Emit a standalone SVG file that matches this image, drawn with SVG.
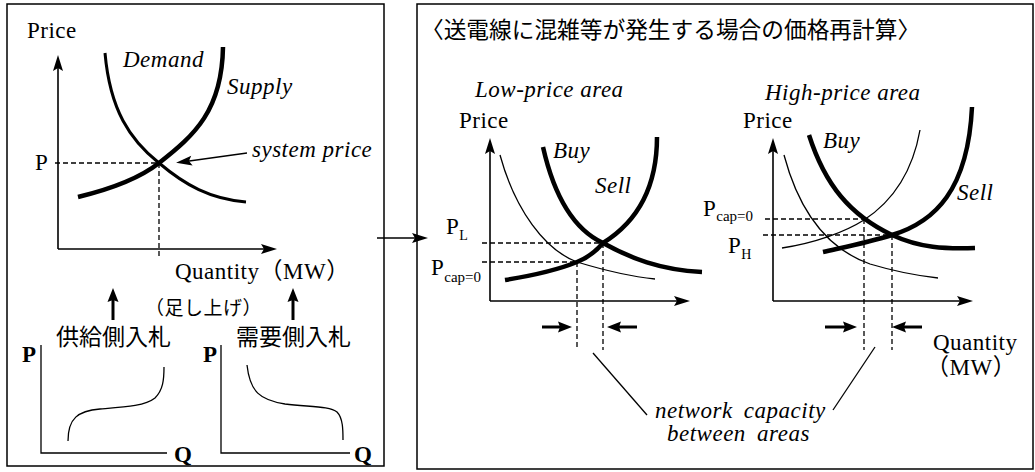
<svg xmlns="http://www.w3.org/2000/svg" width="1035" height="472" viewBox="0 0 1035 472">
<defs>
<style>
.t{font-family:"Liberation Serif","Noto Sans CJK JP",serif;font-size:23px;letter-spacing:0.5px;fill:#000}
.i{font-style:italic}
.b{font-weight:bold}
.cjk{font-family:"Noto Sans CJK JP","Noto Sans CJK SC",sans-serif;fill:#000}
.ax{fill:none;stroke:#000;stroke-width:1.6;marker-end:url(#ah)}
.dash{fill:none;stroke:#000;stroke-width:1.3;stroke-dasharray:5,3}
.thick{fill:none;stroke:#000;stroke-width:4.5;stroke-linecap:butt}
.mid{fill:none;stroke:#000;stroke-width:3}
.thin{fill:none;stroke:#000;stroke-width:1.3}
.bar{fill:none;stroke:#000;stroke-width:3;marker-end:url(#bh)}
.frame{fill:none;stroke:#000;stroke-width:1.5}
</style>
<marker id="ah" markerUnits="userSpaceOnUse" viewBox="-12 -6 20 12" refX="0" refY="0" markerWidth="20" markerHeight="12" orient="auto"><path d="M6,0 L-10,-5 L-7,0 L-10,5 Z" fill="#000"/></marker>
<marker id="bh" markerUnits="userSpaceOnUse" viewBox="-8 -7 18 14" refX="0" refY="0" markerWidth="18" markerHeight="14" orient="auto"><path d="M8,0 L-6,-5.5 L-4,0 L-6,5.5 Z" fill="#000"/></marker>
</defs>

<g id="left-panel">
<rect class="frame" x="7" y="4" width="377" height="462"/>
<path class="ax" d="M58,249 L58,61"/>
<path class="ax" d="M58,249 L271,249"/>
<text class="t" x="27" y="38">Price</text>
<text class="t" x="35" y="170">P</text>
<path class="dash" d="M55,163 L159,163 M159,163 L159,258"/>
<path class="mid" d="M105,53 C110,110 130,140 159,163 C185,185 210,199 246,202"/>
<path class="thick" d="M78,197 C115,188 140,178 159,163 C195,135 222,110 223,47"/>
<text class="t i" x="123" y="67">Demand</text>
<text class="t i" x="227" y="94">Supply</text>
<text class="t i" x="252" y="157">system price</text>
<path class="thin" d="M247,153 L182,162" marker-end="url(#ah)"/>
<text class="t" x="175" y="279">Quantity（MW）</text>
</g>

<g id="bids">
<path class="bar" d="M113,320 L113,296"/>
<path class="bar" d="M293,320 L293,296"/>
<text class="cjk" x="145" y="315" font-size="19" letter-spacing="0.5">（足し上げ）</text>
<text class="cjk" x="56" y="345" font-size="23">供給側入札</text>
<text class="cjk" x="236" y="345" font-size="23">需要側入札</text>
</g>

<g id="supply-bid">
<text class="t b" x="22" y="362" font-size="21">P</text>
<path class="thin" d="M41,345 L41,453 L167,453" stroke-width="1.6"/>
<text class="t b" x="174" y="462" font-size="21">Q</text>
<path class="thin" d="M68,441 C68,418 78,411 100,409 C125,407 145,406 155,398 C163,390 164,380 164,367" stroke-width="1.5"/>
</g>

<g id="demand-bid">
<text class="t b" x="203" y="362" font-size="21">P</text>
<path class="thin" d="M221,345 L221,453 L350,453" stroke-width="1.6"/>
<text class="t b" x="354" y="462" font-size="21">Q</text>
<path class="thin" d="M247,365 C250,392 260,400 285,404 C310,407 330,406 337,412 C343,418 343,430 343,440" stroke-width="1.5"/>
</g>

<g id="connectors">
<path class="ax" d="M377,238 L422,238"/>
</g>

<g id="right-panel">
<rect class="frame" x="417" y="4" width="616" height="465"/>
<text class="cjk" x="421" y="38" font-size="22.7">〈送電線に混雑等が発生する場合の価格再計算〉</text>
</g>

<g id="low-price-area">
<text class="t i" x="475" y="97" letter-spacing="1">Low-price area</text>
<text class="t" x="459" y="128">Price</text>
<path class="ax" d="M490,301 L490,144"/>
<path class="ax" d="M490,301 L684,301"/>
<path class="dash" d="M482,243 L603,243 M482,262 L577,262 M577,262 L577,350 M603,243 L603,350"/>
<path class="thin" d="M500,155 C515,210 545,250 577,262 C610,272 635,277 655,279"/>
<path class="thick" d="M543,147 C555,200 575,230 603,243 C630,258 660,270 702,272"/>
<path class="thick" d="M505,280 C530,276 555,271 577,262 C590,257 597,250 603,243 C640,220 657,185 657,137"/>
<text class="t i" x="553" y="158">Buy</text>
<text class="t i" x="595" y="193">Sell</text>
<text class="t" x="446" y="234">P<tspan font-size="14" dy="6">L</tspan></text>
<text class="t" x="431" y="275">P<tspan font-size="15" dy="7" letter-spacing="0">cap=0</tspan></text>
<path class="bar" d="M542,327 L564,327"/>
<path class="bar" d="M637,327 L615,327"/>
</g>

<g id="high-price-area">
<text class="t i" x="765" y="100" letter-spacing="1">High-price area</text>
<text class="t" x="743" y="128">Price</text>
<path class="ax" d="M773,301 L773,144"/>
<path class="ax" d="M773,301 L967,301"/>
<path class="dash" d="M765,219 L864,219 M763,235 L892,235 M864,219 L864,350 M892,235 L892,350"/>
<path class="thin" d="M784,155 C800,215 830,250 870,264 C900,273 920,276 938,278"/>
<path class="thin" d="M782,248 C815,243 845,232 864,220 C890,203 912,175 920,130"/>
<path class="thick" d="M809,135 C825,185 850,215 892,235 C920,248 945,249 975,248"/>
<path class="thick" d="M823,252 C845,247 870,242 892,235 C935,222 968,190 972,107"/>
<text class="t i" x="823" y="148">Buy</text>
<text class="t i" x="957" y="200">Sell</text>
<text class="t" x="703" y="216">P<tspan font-size="15" dy="5" letter-spacing="0">cap=0</tspan></text>
<text class="t" x="728" y="253">P<tspan font-size="14" dy="6">H</tspan></text>
<path class="bar" d="M825,327 L849,327"/>
<path class="bar" d="M922,327 L900,327"/>
<text class="t" x="933" y="350">Quantity</text>
<text class="t" x="926" y="375">（MW）</text>
</g>

<g id="capacity-note">
<path class="thin" d="M593,353 L647,415"/>
<path class="thin" d="M875,347 L833,410"/>
<text class="t i" x="655" y="418" letter-spacing="1.5" word-spacing="5">network capacity</text>
<text class="t i" x="667" y="441" letter-spacing="1" word-spacing="5">between areas</text>
</g>
</svg>
